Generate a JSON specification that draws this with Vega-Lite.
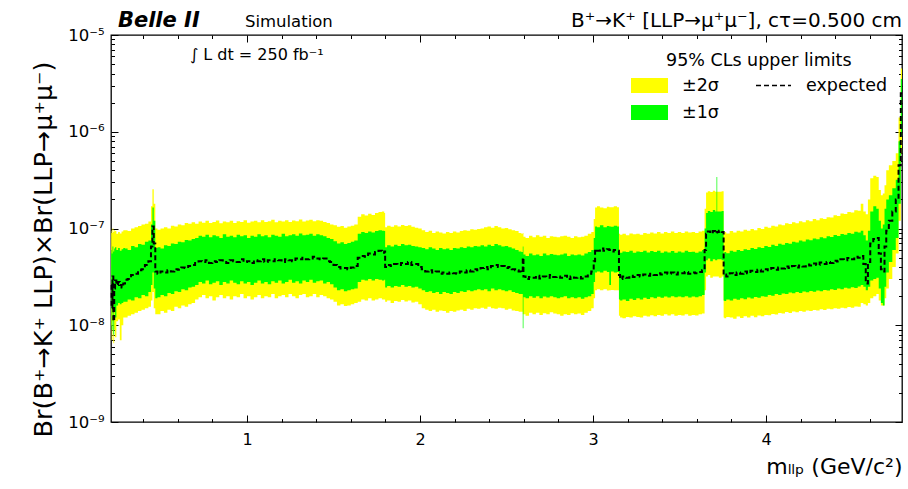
{
  "$schema": "https://vega.github.io/schema/vega-lite/v6.json",
  "width": 791,
  "height": 387,
  "autosize": {"type": "none"},
  "padding": {"left": 111, "top": 35, "right": 6, "bottom": 67},
  "config": {
    "view": {"stroke": "black", "strokeWidth": 1.3},
    "axis": {"domain": false, "grid": false, "labelColor": "black", "tickColor": "black", "labelFont": "DejaVu Sans", "titleFont": "DejaVu Sans", "titleColor": "black", "titleFontWeight": "normal", "tickWidth": 1},
    "legend": {"labelFont": "DejaVu Sans", "labelColor": "black", "padding": 0}
  },
  "data": {"values": [
    {"m":0.215,"e":2.6e-8,"g1":1.5e-8,"g2":6.0e-8,"y1":1.0e-8,"y2":9.5e-8},
    {"m":0.22,"e":1.5e-8,"g1":9e-9,"g2":5.5e-8,"y1":7e-9,"y2":9.0e-8},
    {"m":0.225,"e":3.2e-8,"g1":1.8e-8,"g2":6.5e-8,"y1":1.1e-8,"y2":1.0e-7},
    {"m":0.23,"e":1.1e-8,"g1":8e-9,"g2":5.8e-8,"y1":6.5e-9,"y2":9.2e-8},
    {"m":0.235,"e":2.4e-8,"g1":1.4e-8,"g2":6.2e-8,"y1":9e-9,"y2":9.6e-8},
    {"m":0.24,"e":2.9e-8,"g1":1.2e-8,"g2":6.4e-8,"y1":7.5e-9,"y2":9.4e-8},
    {"m":0.25,"e":2.6e-8,"g1":1.6e-8,"g2":6.0e-8,"y1":1.1e-8,"y2":8.8e-8},
    {"m":0.26,"e":2.8e-8,"g1":1.7e-8,"g2":6.3e-8,"y1":1.15e-8,"y2":9.2e-8},
    {"m":0.27,"e":2.6e-8,"g1":1.65e-8,"g2":5.9e-8,"y1":7e-9,"y2":8.9e-8},
    {"m":0.28,"e":2.45e-8,"g1":1.7e-8,"g2":6.1e-8,"y1":1.0e-8,"y2":9.3e-8},
    {"m":0.29,"e":2.7e-8,"g1":1.75e-8,"g2":6.3e-8,"y1":1.2e-8,"y2":9.6e-8},
    {"m":0.30,"e":2.95e-8,"g1":1.75e-8,"g2":6.2e-8,"y1":1.2e-8,"y2":9.6e-8},
    {"m":0.32,"e":3.0e-8,"g1":1.85e-8,"g2":6.0e-8,"y1":1.25e-8,"y2":9.4e-8},
    {"m":0.34,"e":3.3e-8,"g1":1.8e-8,"g2":6.6e-8,"y1":1.3e-8,"y2":1.0e-7},
    {"m":0.36,"e":3.4e-8,"g1":1.95e-8,"g2":6.4e-8,"y1":1.35e-8,"y2":1.03e-7},
    {"m":0.38,"e":3.7e-8,"g1":1.9e-8,"g2":6.9e-8,"y1":1.4e-8,"y2":1.06e-7},
    {"m":0.40,"e":3.8e-8,"g1":2.05e-8,"g2":6.8e-8,"y1":1.45e-8,"y2":1.1e-7},
    {"m":0.42,"e":4.2e-8,"g1":2.0e-8,"g2":7.3e-8,"y1":1.5e-8,"y2":1.12e-7},
    {"m":0.44,"e":4.6e-8,"g1":2.2e-8,"g2":7.5e-8,"y1":1.55e-8,"y2":1.18e-7},
    {"m":0.45,"e":6.5e-8,"g1":2.6e-8,"g2":1.1e-7,"y1":1.8e-8,"y2":1.7e-7},
    {"m":0.457,"e":1.05e-7,"g1":3.5e-8,"g2":1.65e-7,"y1":2.2e-8,"y2":2.55e-7},
    {"m":0.465,"e":7.0e-8,"g1":2.4e-8,"g2":1.2e-7,"y1":1.5e-8,"y2":1.8e-7},
    {"m":0.475,"e":3.6e-8,"g1":1.9e-8,"g2":6.3e-8,"y1":1.3e-8,"y2":1.0e-7},
    {"m":0.49,"e":3.4e-8,"g1":1.95e-8,"g2":6.4e-8,"y1":1.3e-8,"y2":9.7e-8},
    {"m":0.51,"e":3.6e-8,"g1":2.05e-8,"g2":6.2e-8,"y1":1.4e-8,"y2":1.0e-7},
    {"m":0.53,"e":3.5e-8,"g1":2.0e-8,"g2":6.7e-8,"y1":1.35e-8,"y2":1.03e-7},
    {"m":0.55,"e":3.7e-8,"g1":2.15e-8,"g2":6.6e-8,"y1":1.45e-8,"y2":1.0e-7},
    {"m":0.57,"e":3.6e-8,"g1":2.1e-8,"g2":7.0e-8,"y1":1.4e-8,"y2":1.07e-7},
    {"m":0.59,"e":3.8e-8,"g1":2.25e-8,"g2":6.9e-8,"y1":1.55e-8,"y2":1.05e-7},
    {"m":0.61,"e":3.75e-8,"g1":2.2e-8,"g2":7.3e-8,"y1":1.5e-8,"y2":1.1e-7},
    {"m":0.63,"e":3.95e-8,"g1":2.35e-8,"g2":7.2e-8,"y1":1.6e-8,"y2":1.08e-7},
    {"m":0.65,"e":3.9e-8,"g1":2.3e-8,"g2":7.6e-8,"y1":1.55e-8,"y2":1.14e-7},
    {"m":0.67,"e":4.1e-8,"g1":2.45e-8,"g2":7.5e-8,"y1":1.65e-8,"y2":1.12e-7},
    {"m":0.69,"e":4.2e-8,"g1":2.5e-8,"g2":7.8e-8,"y1":1.7e-8,"y2":1.16e-7},
    {"m":0.71,"e":4.4e-8,"g1":2.6e-8,"g2":8.0e-8,"y1":1.85e-8,"y2":1.12e-7},
    {"m":0.73,"e":4.6e-8,"g1":2.8e-8,"g2":8.4e-8,"y1":1.95e-8,"y2":1.18e-7},
    {"m":0.75,"e":4.5e-8,"g1":2.7e-8,"g2":8.2e-8,"y1":2.05e-8,"y2":1.15e-7},
    {"m":0.77,"e":4.7e-8,"g1":2.9e-8,"g2":8.6e-8,"y1":1.9e-8,"y2":1.2e-7},
    {"m":0.79,"e":4.4e-8,"g1":2.65e-8,"g2":8.1e-8,"y1":2.0e-8,"y2":1.14e-7},
    {"m":0.81,"e":4.6e-8,"g1":2.75e-8,"g2":8.5e-8,"y1":1.8e-8,"y2":1.17e-7},
    {"m":0.83,"e":4.5e-8,"g1":2.85e-8,"g2":8.3e-8,"y1":1.95e-8,"y2":1.21e-7},
    {"m":0.85,"e":4.7e-8,"g1":2.6e-8,"g2":8.0e-8,"y1":2.05e-8,"y2":1.13e-7},
    {"m":0.87,"e":4.5e-8,"g1":2.8e-8,"g2":8.7e-8,"y1":1.9e-8,"y2":1.18e-7},
    {"m":0.89,"e":4.4e-8,"g1":2.7e-8,"g2":8.2e-8,"y1":2.0e-8,"y2":1.16e-7},
    {"m":0.91,"e":4.7e-8,"g1":2.9e-8,"g2":8.4e-8,"y1":1.85e-8,"y2":1.2e-7},
    {"m":0.93,"e":4.6e-8,"g1":2.75e-8,"g2":8.1e-8,"y1":2.0e-8,"y2":1.14e-7},
    {"m":0.95,"e":4.5e-8,"g1":2.65e-8,"g2":8.6e-8,"y1":1.95e-8,"y2":1.19e-7},
    {"m":0.97,"e":4.8e-8,"g1":2.85e-8,"g2":8.3e-8,"y1":2.1e-8,"y2":1.17e-7},
    {"m":0.99,"e":4.5e-8,"g1":2.7e-8,"g2":8.5e-8,"y1":1.9e-8,"y2":1.22e-7},
    {"m":1.01,"e":4.6e-8,"g1":2.8e-8,"g2":8.0e-8,"y1":2.0e-8,"y2":1.15e-7},
    {"m":1.03,"e":4.4e-8,"g1":2.6e-8,"g2":8.4e-8,"y1":1.85e-8,"y2":1.18e-7},
    {"m":1.05,"e":4.7e-8,"g1":2.75e-8,"g2":8.2e-8,"y1":1.95e-8,"y2":1.2e-7},
    {"m":1.07,"e":4.6e-8,"g1":2.9e-8,"g2":8.7e-8,"y1":2.05e-8,"y2":1.16e-7},
    {"m":1.09,"e":4.8e-8,"g1":2.7e-8,"g2":8.3e-8,"y1":1.9e-8,"y2":1.22e-7},
    {"m":1.11,"e":4.5e-8,"g1":2.8e-8,"g2":8.5e-8,"y1":2.0e-8,"y2":1.17e-7},
    {"m":1.13,"e":4.7e-8,"g1":2.65e-8,"g2":8.1e-8,"y1":1.95e-8,"y2":1.19e-7},
    {"m":1.15,"e":4.6e-8,"g1":2.85e-8,"g2":8.6e-8,"y1":2.1e-8,"y2":1.23e-7},
    {"m":1.17,"e":4.8e-8,"g1":2.75e-8,"g2":8.4e-8,"y1":1.9e-8,"y2":1.16e-7},
    {"m":1.19,"e":4.7e-8,"g1":2.9e-8,"g2":8.2e-8,"y1":2.0e-8,"y2":1.2e-7},
    {"m":1.21,"e":4.5e-8,"g1":2.7e-8,"g2":8.8e-8,"y1":2.05e-8,"y2":1.18e-7},
    {"m":1.23,"e":4.8e-8,"g1":2.8e-8,"g2":8.3e-8,"y1":1.95e-8,"y2":1.22e-7},
    {"m":1.25,"e":4.7e-8,"g1":2.95e-8,"g2":8.5e-8,"y1":2.1e-8,"y2":1.17e-7},
    {"m":1.27,"e":4.6e-8,"g1":2.75e-8,"g2":8.7e-8,"y1":2.0e-8,"y2":1.21e-7},
    {"m":1.29,"e":4.9e-8,"g1":2.85e-8,"g2":8.4e-8,"y1":1.9e-8,"y2":1.19e-7},
    {"m":1.31,"e":4.8e-8,"g1":2.7e-8,"g2":8.9e-8,"y1":2.05e-8,"y2":1.24e-7},
    {"m":1.33,"e":5.0e-8,"g1":2.9e-8,"g2":8.5e-8,"y1":2.1e-8,"y2":1.18e-7},
    {"m":1.35,"e":4.8e-8,"g1":2.8e-8,"g2":8.6e-8,"y1":1.95e-8,"y2":1.21e-7},
    {"m":1.37,"e":4.9e-8,"g1":2.95e-8,"g2":8.8e-8,"y1":2.0e-8,"y2":1.23e-7},
    {"m":1.39,"e":5.1e-8,"g1":2.75e-8,"g2":8.4e-8,"y1":2.1e-8,"y2":1.19e-7},
    {"m":1.41,"e":4.9e-8,"g1":2.85e-8,"g2":8.7e-8,"y1":1.95e-8,"y2":1.22e-7},
    {"m":1.43,"e":4.8e-8,"g1":2.9e-8,"g2":8.5e-8,"y1":2.05e-8,"y2":1.2e-7},
    {"m":1.45,"e":4.9e-8,"g1":2.7e-8,"g2":8.3e-8,"y1":2.0e-8,"y2":1.17e-7},
    {"m":1.47,"e":4.6e-8,"g1":2.8e-8,"g2":8.0e-8,"y1":1.9e-8,"y2":1.14e-7},
    {"m":1.49,"e":4.5e-8,"g1":2.65e-8,"g2":7.8e-8,"y1":1.85e-8,"y2":1.1e-7},
    {"m":1.51,"e":4.2e-8,"g1":2.45e-8,"g2":7.4e-8,"y1":1.75e-8,"y2":1.08e-7},
    {"m":1.53,"e":4.0e-8,"g1":2.3e-8,"g2":7.0e-8,"y1":1.6e-8,"y2":1.04e-7},
    {"m":1.55,"e":3.85e-8,"g1":2.35e-8,"g2":7.2e-8,"y1":1.65e-8,"y2":1.06e-7},
    {"m":1.57,"e":3.9e-8,"g1":2.25e-8,"g2":6.9e-8,"y1":1.58e-8,"y2":1.02e-7},
    {"m":1.59,"e":3.8e-8,"g1":2.3e-8,"g2":7.1e-8,"y1":1.6e-8,"y2":1.05e-7},
    {"m":1.61,"e":3.95e-8,"g1":2.35e-8,"g2":7.3e-8,"y1":1.65e-8,"y2":1.07e-7},
    {"m":1.63,"e":4.1e-8,"g1":2.4e-8,"g2":7.5e-8,"y1":1.7e-8,"y2":1.1e-7},
    {"m":1.65,"e":5.0e-8,"g1":2.8e-8,"g2":8.8e-8,"y1":1.75e-8,"y2":1.32e-7},
    {"m":1.67,"e":5.2e-8,"g1":2.95e-8,"g2":9.2e-8,"y1":1.85e-8,"y2":1.4e-7},
    {"m":1.69,"e":5.1e-8,"g1":2.9e-8,"g2":9.0e-8,"y1":1.8e-8,"y2":1.36e-7},
    {"m":1.71,"e":5.5e-8,"g1":3.0e-8,"g2":9.3e-8,"y1":1.9e-8,"y2":1.42e-7},
    {"m":1.73,"e":5.4e-8,"g1":2.9e-8,"g2":9.1e-8,"y1":1.8e-8,"y2":1.38e-7},
    {"m":1.75,"e":5.7e-8,"g1":3.0e-8,"g2":9.4e-8,"y1":1.85e-8,"y2":1.45e-7},
    {"m":1.77,"e":5.9e-8,"g1":2.95e-8,"g2":9.6e-8,"y1":1.9e-8,"y2":1.48e-7},
    {"m":1.79,"e":5.6e-8,"g1":2.9e-8,"g2":9.5e-8,"y1":1.85e-8,"y2":1.5e-7},
    {"m":1.797,"e":5.8e-8,"g1":2.95e-8,"g2":9.4e-8,"y1":1.85e-8,"y2":1.45e-7},
    {"m":1.80,"e":4.0e-8,"g1":2.45e-8,"g2":6.4e-8,"y1":1.75e-8,"y2":1.03e-7},
    {"m":1.82,"e":4.2e-8,"g1":2.55e-8,"g2":6.7e-8,"y1":1.8e-8,"y2":1.07e-7},
    {"m":1.84,"e":4.1e-8,"g1":2.45e-8,"g2":6.5e-8,"y1":1.7e-8,"y2":1.04e-7},
    {"m":1.86,"e":4.3e-8,"g1":2.55e-8,"g2":6.8e-8,"y1":1.78e-8,"y2":1.08e-7},
    {"m":1.88,"e":4.2e-8,"g1":2.5e-8,"g2":6.6e-8,"y1":1.75e-8,"y2":1.05e-7},
    {"m":1.90,"e":4.4e-8,"g1":2.6e-8,"g2":6.9e-8,"y1":1.82e-8,"y2":1.09e-7},
    {"m":1.92,"e":4.3e-8,"g1":2.5e-8,"g2":6.7e-8,"y1":1.76e-8,"y2":1.06e-7},
    {"m":1.94,"e":4.5e-8,"g1":2.55e-8,"g2":6.8e-8,"y1":1.8e-8,"y2":1.08e-7},
    {"m":1.96,"e":4.2e-8,"g1":2.45e-8,"g2":6.6e-8,"y1":1.72e-8,"y2":1.04e-7},
    {"m":1.98,"e":4.3e-8,"g1":2.5e-8,"g2":6.5e-8,"y1":1.75e-8,"y2":1.02e-7},
    {"m":2.00,"e":4.0e-8,"g1":2.4e-8,"g2":6.4e-8,"y1":1.65e-8,"y2":1.0e-7},
    {"m":2.02,"e":3.8e-8,"g1":2.3e-8,"g2":6.3e-8,"y1":1.5e-8,"y2":9.6e-8},
    {"m":2.04,"e":3.6e-8,"g1":2.2e-8,"g2":6.1e-8,"y1":1.45e-8,"y2":9.2e-8},
    {"m":2.06,"e":3.7e-8,"g1":2.25e-8,"g2":6.4e-8,"y1":1.4e-8,"y2":9.5e-8},
    {"m":2.08,"e":3.5e-8,"g1":2.15e-8,"g2":6.2e-8,"y1":1.45e-8,"y2":9.0e-8},
    {"m":2.10,"e":3.6e-8,"g1":2.2e-8,"g2":6.0e-8,"y1":1.38e-8,"y2":9.3e-8},
    {"m":2.12,"e":3.4e-8,"g1":2.1e-8,"g2":6.3e-8,"y1":1.42e-8,"y2":9.1e-8},
    {"m":2.14,"e":3.5e-8,"g1":2.2e-8,"g2":6.1e-8,"y1":1.4e-8,"y2":8.9e-8},
    {"m":2.16,"e":3.4e-8,"g1":2.15e-8,"g2":6.2e-8,"y1":1.35e-8,"y2":9.2e-8},
    {"m":2.18,"e":3.5e-8,"g1":2.1e-8,"g2":6.0e-8,"y1":1.4e-8,"y2":9.0e-8},
    {"m":2.20,"e":3.45e-8,"g1":2.2e-8,"g2":6.3e-8,"y1":1.38e-8,"y2":9.3e-8},
    {"m":2.22,"e":3.4e-8,"g1":2.15e-8,"g2":6.2e-8,"y1":1.42e-8,"y2":9.1e-8},
    {"m":2.24,"e":3.6e-8,"g1":2.25e-8,"g2":6.4e-8,"y1":1.45e-8,"y2":9.4e-8},
    {"m":2.26,"e":3.5e-8,"g1":2.2e-8,"g2":6.3e-8,"y1":1.4e-8,"y2":9.6e-8},
    {"m":2.28,"e":3.7e-8,"g1":2.3e-8,"g2":6.5e-8,"y1":1.48e-8,"y2":9.5e-8},
    {"m":2.30,"e":3.6e-8,"g1":2.25e-8,"g2":6.4e-8,"y1":1.45e-8,"y2":9.8e-8},
    {"m":2.32,"e":3.8e-8,"g1":2.3e-8,"g2":6.6e-8,"y1":1.5e-8,"y2":9.7e-8},
    {"m":2.34,"e":3.7e-8,"g1":2.35e-8,"g2":6.5e-8,"y1":1.48e-8,"y2":9.9e-8},
    {"m":2.36,"e":3.9e-8,"g1":2.3e-8,"g2":6.7e-8,"y1":1.52e-8,"y2":1.0e-7},
    {"m":2.38,"e":4.0e-8,"g1":2.35e-8,"g2":6.5e-8,"y1":1.48e-8,"y2":1.03e-7},
    {"m":2.40,"e":3.8e-8,"g1":2.25e-8,"g2":6.8e-8,"y1":1.55e-8,"y2":1.05e-7},
    {"m":2.42,"e":4.1e-8,"g1":2.4e-8,"g2":6.6e-8,"y1":1.5e-8,"y2":1.02e-7},
    {"m":2.44,"e":4.2e-8,"g1":2.3e-8,"g2":6.9e-8,"y1":1.48e-8,"y2":1.06e-7},
    {"m":2.46,"e":4.0e-8,"g1":2.35e-8,"g2":6.7e-8,"y1":1.52e-8,"y2":1.03e-7},
    {"m":2.48,"e":4.1e-8,"g1":2.3e-8,"g2":6.5e-8,"y1":1.5e-8,"y2":1.0e-7},
    {"m":2.50,"e":3.9e-8,"g1":2.25e-8,"g2":6.6e-8,"y1":1.45e-8,"y2":1.01e-7},
    {"m":2.52,"e":4.0e-8,"g1":2.3e-8,"g2":6.4e-8,"y1":1.48e-8,"y2":9.8e-8},
    {"m":2.54,"e":3.8e-8,"g1":2.2e-8,"g2":6.2e-8,"y1":1.42e-8,"y2":9.6e-8},
    {"m":2.56,"e":3.7e-8,"g1":2.15e-8,"g2":6.0e-8,"y1":1.4e-8,"y2":9.4e-8},
    {"m":2.58,"e":3.6e-8,"g1":2.1e-8,"g2":5.8e-8,"y1":1.38e-8,"y2":9.0e-8},
    {"m":2.592,"e":3.5e-8,"g1":2.1e-8,"g2":5.7e-8,"y1":1.38e-8,"y2":8.8e-8},
    {"m":2.596,"e":5.0e-8,"g1":9.3e-9,"g2":6.5e-8,"y1":1.3e-8,"y2":9.0e-8},
    {"m":2.60,"e":3.2e-8,"g1":1.95e-8,"g2":5.4e-8,"y1":1.3e-8,"y2":8.2e-8},
    {"m":2.62,"e":3.0e-8,"g1":1.9e-8,"g2":5.2e-8,"y1":1.25e-8,"y2":8.0e-8},
    {"m":2.64,"e":3.15e-8,"g1":2.0e-8,"g2":5.5e-8,"y1":1.35e-8,"y2":8.4e-8},
    {"m":2.66,"e":3.1e-8,"g1":1.92e-8,"g2":5.3e-8,"y1":1.3e-8,"y2":8.1e-8},
    {"m":2.68,"e":3.25e-8,"g1":2.0e-8,"g2":5.4e-8,"y1":1.35e-8,"y2":8.5e-8},
    {"m":2.70,"e":3.05e-8,"g1":1.9e-8,"g2":5.2e-8,"y1":1.28e-8,"y2":8.2e-8},
    {"m":2.72,"e":3.2e-8,"g1":1.98e-8,"g2":5.5e-8,"y1":1.33e-8,"y2":8.4e-8},
    {"m":2.74,"e":3.1e-8,"g1":1.93e-8,"g2":5.3e-8,"y1":1.3e-8,"y2":8.0e-8},
    {"m":2.76,"e":3.3e-8,"g1":2.0e-8,"g2":5.45e-8,"y1":1.36e-8,"y2":8.3e-8},
    {"m":2.78,"e":3.15e-8,"g1":1.95e-8,"g2":5.35e-8,"y1":1.32e-8,"y2":8.2e-8},
    {"m":2.80,"e":3.2e-8,"g1":1.9e-8,"g2":5.3e-8,"y1":1.3e-8,"y2":8.1e-8},
    {"m":2.82,"e":3.1e-8,"g1":1.95e-8,"g2":5.4e-8,"y1":1.25e-8,"y2":8.3e-8},
    {"m":2.84,"e":3.25e-8,"g1":2.0e-8,"g2":5.5e-8,"y1":1.3e-8,"y2":8.4e-8},
    {"m":2.86,"e":3.0e-8,"g1":1.9e-8,"g2":5.2e-8,"y1":1.28e-8,"y2":8.2e-8},
    {"m":2.88,"e":3.2e-8,"g1":1.95e-8,"g2":5.4e-8,"y1":1.33e-8,"y2":8.0e-8},
    {"m":2.90,"e":3.1e-8,"g1":1.9e-8,"g2":5.3e-8,"y1":1.3e-8,"y2":8.3e-8},
    {"m":2.92,"e":3.15e-8,"g1":1.95e-8,"g2":5.4e-8,"y1":1.32e-8,"y2":8.1e-8},
    {"m":2.94,"e":3.05e-8,"g1":1.88e-8,"g2":5.25e-8,"y1":1.28e-8,"y2":8.2e-8},
    {"m":2.96,"e":3.2e-8,"g1":1.95e-8,"g2":5.5e-8,"y1":1.35e-8,"y2":8.4e-8},
    {"m":2.98,"e":3.4e-8,"g1":2.0e-8,"g2":5.7e-8,"y1":1.4e-8,"y2":8.8e-8},
    {"m":3.00,"e":3.6e-8,"g1":2.1e-8,"g2":6.0e-8,"y1":1.5e-8,"y2":9.2e-8},
    {"m":3.008,"e":4.6e-8,"g1":2.8e-8,"g2":8.0e-8,"y1":1.9e-8,"y2":1.25e-7},
    {"m":3.016,"e":6.1e-8,"g1":3.5e-8,"g2":1.05e-7,"y1":2.3e-8,"y2":1.65e-7},
    {"m":3.03,"e":5.9e-8,"g1":3.6e-8,"g2":1.03e-7,"y1":2.35e-8,"y2":1.7e-7},
    {"m":3.05,"e":6.2e-8,"g1":3.5e-8,"g2":1.08e-7,"y1":2.3e-8,"y2":1.65e-7},
    {"m":3.07,"e":5.9e-8,"g1":3.65e-8,"g2":1.03e-7,"y1":2.35e-8,"y2":1.62e-7},
    {"m":3.09,"e":6.1e-8,"g1":3.55e-8,"g2":1.06e-7,"y1":2.28e-8,"y2":1.68e-7},
    {"m":3.098,"e":6.0e-8,"g1":2.6e-8,"g2":1.05e-7,"y1":2.3e-8,"y2":1.66e-7},
    {"m":3.11,"e":5.8e-8,"g1":3.6e-8,"g2":1.04e-7,"y1":2.32e-8,"y2":1.66e-7},
    {"m":3.13,"e":6.0e-8,"g1":3.5e-8,"g2":1.07e-7,"y1":2.3e-8,"y2":1.7e-7},
    {"m":3.147,"e":5.9e-8,"g1":3.55e-8,"g2":1.05e-7,"y1":2.3e-8,"y2":1.66e-7},
    {"m":3.153,"e":3.3e-8,"g1":1.85e-8,"g2":5.6e-8,"y1":1.25e-8,"y2":8.8e-8},
    {"m":3.16,"e":3.0e-8,"g1":1.8e-8,"g2":5.6e-8,"y1":1.2e-8,"y2":8.6e-8},
    {"m":3.18,"e":3.2e-8,"g1":1.85e-8,"g2":5.8e-8,"y1":1.18e-8,"y2":8.8e-8},
    {"m":3.20,"e":3.1e-8,"g1":1.78e-8,"g2":5.7e-8,"y1":1.22e-8,"y2":8.5e-8},
    {"m":3.22,"e":3.25e-8,"g1":1.88e-8,"g2":5.9e-8,"y1":1.2e-8,"y2":8.9e-8},
    {"m":3.24,"e":3.15e-8,"g1":1.82e-8,"g2":5.6e-8,"y1":1.24e-8,"y2":8.7e-8},
    {"m":3.26,"e":3.3e-8,"g1":1.9e-8,"g2":5.8e-8,"y1":1.22e-8,"y2":8.8e-8},
    {"m":3.28,"e":3.2e-8,"g1":1.85e-8,"g2":5.7e-8,"y1":1.2e-8,"y2":8.6e-8},
    {"m":3.30,"e":3.35e-8,"g1":1.92e-8,"g2":5.9e-8,"y1":1.25e-8,"y2":9.0e-8},
    {"m":3.32,"e":3.25e-8,"g1":1.87e-8,"g2":5.65e-8,"y1":1.23e-8,"y2":8.8e-8},
    {"m":3.34,"e":3.4e-8,"g1":1.95e-8,"g2":5.85e-8,"y1":1.27e-8,"y2":9.1e-8},
    {"m":3.36,"e":3.3e-8,"g1":1.9e-8,"g2":5.7e-8,"y1":1.24e-8,"y2":8.9e-8},
    {"m":3.38,"e":3.45e-8,"g1":1.97e-8,"g2":5.9e-8,"y1":1.28e-8,"y2":9.2e-8},
    {"m":3.40,"e":3.35e-8,"g1":1.92e-8,"g2":5.6e-8,"y1":1.25e-8,"y2":8.9e-8},
    {"m":3.42,"e":3.5e-8,"g1":1.98e-8,"g2":5.8e-8,"y1":1.3e-8,"y2":9.2e-8},
    {"m":3.44,"e":3.4e-8,"g1":1.93e-8,"g2":5.65e-8,"y1":1.26e-8,"y2":9.0e-8},
    {"m":3.46,"e":3.5e-8,"g1":2.0e-8,"g2":5.85e-8,"y1":1.3e-8,"y2":9.3e-8},
    {"m":3.48,"e":3.35e-8,"g1":1.95e-8,"g2":5.6e-8,"y1":1.25e-8,"y2":9.0e-8},
    {"m":3.50,"e":3.5e-8,"g1":1.98e-8,"g2":5.8e-8,"y1":1.28e-8,"y2":9.2e-8},
    {"m":3.52,"e":3.45e-8,"g1":1.95e-8,"g2":5.65e-8,"y1":1.26e-8,"y2":9.0e-8},
    {"m":3.54,"e":3.55e-8,"g1":2.0e-8,"g2":5.9e-8,"y1":1.3e-8,"y2":9.3e-8},
    {"m":3.56,"e":3.4e-8,"g1":1.94e-8,"g2":5.7e-8,"y1":1.25e-8,"y2":9.1e-8},
    {"m":3.58,"e":3.5e-8,"g1":1.98e-8,"g2":5.75e-8,"y1":1.28e-8,"y2":9.2e-8},
    {"m":3.60,"e":3.45e-8,"g1":1.95e-8,"g2":5.6e-8,"y1":1.26e-8,"y2":9.0e-8},
    {"m":3.62,"e":3.55e-8,"g1":2.0e-8,"g2":5.8e-8,"y1":1.3e-8,"y2":9.3e-8},
    {"m":3.64,"e":3.7e-8,"g1":2.05e-8,"g2":6.0e-8,"y1":1.32e-8,"y2":9.5e-8},
    {"m":3.65,"e":6.0e-8,"g1":3.5e-8,"g2":1.0e-7,"y1":2.3e-8,"y2":1.6e-7},
    {"m":3.657,"e":8.8e-8,"g1":4.7e-8,"g2":1.45e-7,"y1":3.2e-8,"y2":2.35e-7},
    {"m":3.67,"e":9.3e-8,"g1":4.9e-8,"g2":1.52e-7,"y1":3.3e-8,"y2":2.42e-7},
    {"m":3.685,"e":8.9e-8,"g1":4.6e-8,"g2":1.48e-7,"y1":3.1e-8,"y2":2.38e-7},
    {"m":3.70,"e":9.4e-8,"g1":4.8e-8,"g2":1.55e-7,"y1":3.2e-8,"y2":2.45e-7},
    {"m":3.712,"e":9.0e-8,"g1":4.7e-8,"g2":1.5e-7,"y1":3.2e-8,"y2":2.4e-7},
    {"m":3.716,"e":9.1e-8,"g1":4.7e-8,"g2":3.4e-7,"y1":3.2e-8,"y2":2.4e-7},
    {"m":3.72,"e":9.2e-8,"g1":4.8e-8,"g2":1.5e-7,"y1":3.2e-8,"y2":2.4e-7},
    {"m":3.735,"e":9.5e-8,"g1":4.8e-8,"g2":1.5e-7,"y1":3.1e-8,"y2":2.4e-7},
    {"m":3.752,"e":9.2e-8,"g1":4.7e-8,"g2":1.52e-7,"y1":3.2e-8,"y2":2.42e-7},
    {"m":3.758,"e":3.3e-8,"g1":1.8e-8,"g2":5.5e-8,"y1":1.2e-8,"y2":8.9e-8},
    {"m":3.76,"e":3.35e-8,"g1":1.78e-8,"g2":5.7e-8,"y1":1.18e-8,"y2":9.2e-8},
    {"m":3.78,"e":3.2e-8,"g1":1.85e-8,"g2":5.55e-8,"y1":1.22e-8,"y2":8.9e-8},
    {"m":3.80,"e":3.45e-8,"g1":1.8e-8,"g2":5.9e-8,"y1":1.2e-8,"y2":9.4e-8},
    {"m":3.82,"e":3.3e-8,"g1":1.88e-8,"g2":5.75e-8,"y1":1.17e-8,"y2":9.1e-8},
    {"m":3.84,"e":3.5e-8,"g1":1.84e-8,"g2":6.0e-8,"y1":1.23e-8,"y2":9.5e-8},
    {"m":3.86,"e":3.4e-8,"g1":1.9e-8,"g2":5.85e-8,"y1":1.19e-8,"y2":9.3e-8},
    {"m":3.88,"e":3.6e-8,"g1":1.86e-8,"g2":6.1e-8,"y1":1.24e-8,"y2":9.7e-8},
    {"m":3.90,"e":3.45e-8,"g1":1.93e-8,"g2":6.0e-8,"y1":1.2e-8,"y2":9.5e-8},
    {"m":3.92,"e":3.65e-8,"g1":1.89e-8,"g2":6.3e-8,"y1":1.25e-8,"y2":9.9e-8},
    {"m":3.94,"e":3.55e-8,"g1":1.96e-8,"g2":6.15e-8,"y1":1.21e-8,"y2":9.6e-8},
    {"m":3.96,"e":3.75e-8,"g1":1.92e-8,"g2":6.4e-8,"y1":1.26e-8,"y2":1.01e-7},
    {"m":3.98,"e":3.6e-8,"g1":2.0e-8,"g2":6.3e-8,"y1":1.24e-8,"y2":9.9e-8},
    {"m":4.00,"e":3.8e-8,"g1":1.97e-8,"g2":6.6e-8,"y1":1.28e-8,"y2":1.04e-7},
    {"m":4.02,"e":3.7e-8,"g1":2.05e-8,"g2":6.45e-8,"y1":1.27e-8,"y2":1.02e-7},
    {"m":4.04,"e":3.9e-8,"g1":2.02e-8,"g2":6.8e-8,"y1":1.31e-8,"y2":1.07e-7},
    {"m":4.06,"e":3.75e-8,"g1":2.1e-8,"g2":6.6e-8,"y1":1.29e-8,"y2":1.05e-7},
    {"m":4.08,"e":3.95e-8,"g1":2.06e-8,"g2":6.95e-8,"y1":1.34e-8,"y2":1.1e-7},
    {"m":4.10,"e":3.85e-8,"g1":2.13e-8,"g2":6.8e-8,"y1":1.32e-8,"y2":1.08e-7},
    {"m":4.12,"e":4.05e-8,"g1":2.1e-8,"g2":7.1e-8,"y1":1.37e-8,"y2":1.13e-7},
    {"m":4.14,"e":3.9e-8,"g1":2.18e-8,"g2":6.95e-8,"y1":1.34e-8,"y2":1.11e-7},
    {"m":4.16,"e":4.1e-8,"g1":2.14e-8,"g2":7.3e-8,"y1":1.39e-8,"y2":1.16e-7},
    {"m":4.18,"e":3.95e-8,"g1":2.2e-8,"g2":7.15e-8,"y1":1.36e-8,"y2":1.13e-7},
    {"m":4.20,"e":4.15e-8,"g1":2.16e-8,"g2":7.5e-8,"y1":1.4e-8,"y2":1.19e-7},
    {"m":4.22,"e":4.05e-8,"g1":2.23e-8,"g2":7.35e-8,"y1":1.38e-8,"y2":1.16e-7},
    {"m":4.24,"e":4.25e-8,"g1":2.19e-8,"g2":7.7e-8,"y1":1.42e-8,"y2":1.22e-7},
    {"m":4.26,"e":4.15e-8,"g1":2.26e-8,"g2":7.55e-8,"y1":1.4e-8,"y2":1.19e-7},
    {"m":4.28,"e":4.35e-8,"g1":2.22e-8,"g2":7.9e-8,"y1":1.44e-8,"y2":1.25e-7},
    {"m":4.30,"e":4.2e-8,"g1":2.29e-8,"g2":7.75e-8,"y1":1.42e-8,"y2":1.22e-7},
    {"m":4.32,"e":4.45e-8,"g1":2.25e-8,"g2":8.1e-8,"y1":1.46e-8,"y2":1.28e-7},
    {"m":4.34,"e":4.3e-8,"g1":2.32e-8,"g2":7.95e-8,"y1":1.44e-8,"y2":1.25e-7},
    {"m":4.36,"e":4.5e-8,"g1":2.28e-8,"g2":8.3e-8,"y1":1.48e-8,"y2":1.31e-7},
    {"m":4.38,"e":4.4e-8,"g1":2.35e-8,"g2":8.15e-8,"y1":1.46e-8,"y2":1.3e-7},
    {"m":4.40,"e":4.65e-8,"g1":2.32e-8,"g2":8.55e-8,"y1":1.5e-8,"y2":1.37e-7},
    {"m":4.42,"e":4.55e-8,"g1":2.4e-8,"g2":8.35e-8,"y1":1.48e-8,"y2":1.35e-7},
    {"m":4.44,"e":4.8e-8,"g1":2.36e-8,"g2":8.75e-8,"y1":1.52e-8,"y2":1.43e-7},
    {"m":4.46,"e":4.7e-8,"g1":2.44e-8,"g2":8.6e-8,"y1":1.5e-8,"y2":1.41e-7},
    {"m":4.48,"e":4.95e-8,"g1":2.4e-8,"g2":9.0e-8,"y1":1.54e-8,"y2":1.48e-7},
    {"m":4.50,"e":4.8e-8,"g1":2.47e-8,"g2":8.85e-8,"y1":1.52e-8,"y2":1.46e-7},
    {"m":4.52,"e":5.1e-8,"g1":2.43e-8,"g2":9.25e-8,"y1":1.56e-8,"y2":1.54e-7},
    {"m":4.54,"e":5.0e-8,"g1":2.52e-8,"g2":9.1e-8,"y1":1.55e-8,"y2":1.53e-7},
    {"m":4.555,"e":5.2e-8,"g1":2.6e-8,"g2":9.5e-8,"y1":1.7e-8,"y2":1.8e-7},
    {"m":4.57,"e":4.3e-8,"g1":2.5e-8,"g2":8.5e-8,"y1":1.65e-8,"y2":1.5e-7},
    {"m":4.583,"e":2.7e-8,"g1":2.3e-8,"g2":7.5e-8,"y1":1.6e-8,"y2":1.4e-7},
    {"m":4.595,"e":4.5e-8,"g1":2.5e-8,"g2":9.5e-8,"y1":1.7e-8,"y2":2.0e-7},
    {"m":4.61,"e":7.0e-8,"g1":2.9e-8,"g2":1.5e-7,"y1":1.9e-8,"y2":3.3e-7},
    {"m":4.63,"e":7.8e-8,"g1":3.0e-8,"g2":1.7e-7,"y1":2.0e-8,"y2":3.5e-7},
    {"m":4.645,"e":8.0e-8,"g1":3.1e-8,"g2":1.6e-7,"y1":2.1e-8,"y2":3.4e-7},
    {"m":4.658,"e":5.5e-8,"g1":2.4e-8,"g2":1.2e-7,"y1":1.8e-8,"y2":2.5e-7},
    {"m":4.67,"e":3.8e-8,"g1":1.7e-8,"g2":1.0e-7,"y1":1.6e-8,"y2":2.2e-7},
    {"m":4.68,"e":3.6e-8,"g1":1.6e-8,"g2":1.1e-7,"y1":1.6e-8,"y2":2.3e-7},
    {"m":4.69,"e":6.5e-8,"g1":2.5e-8,"g2":1.6e-7,"y1":1.9e-8,"y2":2.8e-7},
    {"m":4.70,"e":9.5e-8,"g1":3.5e-8,"g2":2.0e-7,"y1":2.4e-8,"y2":4.0e-7},
    {"m":4.72,"e":1.2e-7,"g1":4.5e-8,"g2":2.2e-7,"y1":3.0e-8,"y2":4.5e-7},
    {"m":4.74,"e":1.5e-7,"g1":6.0e-8,"g2":2.6e-7,"y1":4.0e-8,"y2":5.0e-7},
    {"m":4.76,"e":2.0e-7,"g1":8.0e-8,"g2":3.2e-7,"y1":5.5e-8,"y2":6.0e-7},
    {"m":4.772,"e":4.5e-7,"g1":1.8e-7,"g2":8.0e-7,"y1":1.2e-7,"y2":1.4e-6},
    {"m":4.786,"e":2.5e-6,"g1":9e-7,"g2":3.5e-6,"y1":6e-7,"y2":4.5e-6}
  ]},
  "layer": [
    {
      "mark": {"type": "area", "opacity": 1, "interpolate": "step"},
      "encoding": {
        "x": {"field": "m", "type": "quantitative", "scale": {"domain": [0.214, 4.786], "nice": false, "zero": false},
          "axis": {"orient": "bottom", "values": [1, 2, 3, 4], "format": "d", "tickSize": -7, "labelPadding": 16, "labelFontSize": 16, "title": "mₗₗₚ (GeV/c²)", "titleFontSize": 22, "titleAnchor": "end", "titlePadding": 9}},
        "y": {"field": "y1", "type": "quantitative", "scale": {"type": "log", "domain": [1e-9, 1e-5], "nice": false},
          "axis": {"orient": "left", "values": [1e-9, 1e-8, 1e-7, 1e-6, 1e-5], "tickSize": -7, "labelPadding": 14, "labelFontSize": 16.5,
            "labelExpr": "datum.value < 5e-9 ? '10⁻⁹' : datum.value < 5e-8 ? '10⁻⁸' : datum.value < 5e-7 ? '10⁻⁷' : datum.value < 5e-6 ? '10⁻⁶' : '10⁻⁵'",
            "title": "Br(B⁺→K⁺ LLP)×Br(LLP→μ⁺μ⁻)", "titleFontSize": 25.5, "titleX": -60, "titleY": 214, "titleBaseline": "alphabetic"}},
        "y2": {"field": "y2"},
        "color": {"datum": "±2σ", "type": "nominal", "scale": {"domain": ["±2σ", "±1σ"], "range": ["#ffff00", "#00ff00"]},
          "legend": {"orient": "none", "legendX": 520, "legendY": 32, "title": null, "symbolType": "M-1,-0.4L1,-0.4L1,0.4L-1,0.4Z", "symbolSize": 1369, "symbolOpacity": 1, "symbolStrokeWidth": 0, "labelFontSize": 17.5, "labelOffset": 14, "rowPadding": -13}}
      }
    },
    {
      "mark": {"type": "area", "opacity": 1, "interpolate": "step"},
      "encoding": {
        "x": {"field": "m", "type": "quantitative",
          "axis": {"orient": "bottom", "values": [0.4, 0.6, 0.8, 1.2, 1.4, 1.6, 1.8, 2.2, 2.4, 2.6, 2.8, 3.2, 3.4, 3.6, 3.8, 4.2, 4.4, 4.6], "tickSize": -3.5, "labels": false, "title": null}},
        "y": {"field": "g1", "type": "quantitative",
          "axis": {"orient": "left", "values": [2e-9, 3e-9, 4e-9, 5e-9, 6e-9, 7e-9, 8e-9, 9e-9, 2e-8, 3e-8, 4e-8, 5e-8, 6e-8, 7e-8, 8e-8, 9e-8, 2e-7, 3e-7, 4e-7, 5e-7, 6e-7, 7e-7, 8e-7, 9e-7, 2e-6, 3e-6, 4e-6, 5e-6, 6e-6, 7e-6, 8e-6, 9e-6], "tickSize": -3.5, "labels": false, "title": null}},
        "y2": {"field": "g2"},
        "color": {"datum": "±1σ", "type": "nominal"}
      }
    },
    {
      "mark": {"type": "line", "strokeWidth": 2, "color": "black", "interpolate": "step"},
      "encoding": {
        "x": {"field": "m", "type": "quantitative",
          "axis": {"orient": "top", "values": [1, 2, 3, 4], "tickSize": -7, "labels": false, "title": null}},
        "y": {"field": "e", "type": "quantitative",
          "axis": {"orient": "right", "values": [1e-9, 1e-8, 1e-7, 1e-6, 1e-5], "tickSize": -7, "labels": false, "title": null}},
        "strokeDash": {"datum": "expected", "type": "nominal", "scale": {"domain": ["expected"], "range": [[5, 3]]},
          "legend": {"orient": "none", "legendX": 644, "legendY": 32, "title": null, "symbolType": "stroke", "symbolSize": 1225, "symbolStrokeColor": "black", "symbolStrokeWidth": 1.5, "labelFontSize": 17.5, "labelOffset": 14}}
      }
    },
    {
      "mark": {"type": "line", "opacity": 0},
      "encoding": {
        "x": {"field": "m", "type": "quantitative",
          "axis": {"orient": "top", "values": [0.4, 0.6, 0.8, 1.2, 1.4, 1.6, 1.8, 2.2, 2.4, 2.6, 2.8, 3.2, 3.4, 3.6, 3.8, 4.2, 4.4, 4.6], "tickSize": -3.5, "labels": false, "title": null}},
        "y": {"field": "e", "type": "quantitative",
          "axis": {"orient": "right", "values": [2e-9, 3e-9, 4e-9, 5e-9, 6e-9, 7e-9, 8e-9, 9e-9, 2e-8, 3e-8, 4e-8, 5e-8, 6e-8, 7e-8, 8e-8, 9e-8, 2e-7, 3e-7, 4e-7, 5e-7, 6e-7, 7e-7, 8e-7, 9e-7, 2e-6, 3e-6, 4e-6, 5e-6, 6e-6, 7e-6, 8e-6, 9e-6], "tickSize": -3.5, "labels": false, "title": null}}
      }
    },
    {
      "data": {"values": [{}]},
      "mark": {"type": "text", "text": "Belle II", "font": "DejaVu Sans", "fontSize": 21, "fontWeight": "bold", "fontStyle": "italic", "align": "left", "baseline": "alphabetic", "color": "black"},
      "encoding": {
        "x": {"datum": 0.254, "type": "quantitative", "axis": null},
        "y": {"datum": 1.2e-5, "type": "quantitative", "axis": null}
      }
    },
    {
      "data": {"values": [{}]},
      "mark": {"type": "text", "text": "Simulation", "font": "DejaVu Sans", "fontSize": 16.5, "align": "left", "baseline": "alphabetic", "color": "black"},
      "encoding": {
        "x": {"datum": 0.988, "type": "quantitative", "axis": null},
        "y": {"datum": 1.2e-5, "type": "quantitative", "axis": null}
      }
    },
    {
      "data": {"values": [{}]},
      "mark": {"type": "text", "text": "B⁺→K⁺ [LLP→μ⁺μ⁻], cτ=0.500 cm", "font": "DejaVu Sans", "fontSize": 20, "align": "right", "baseline": "alphabetic", "color": "black"},
      "encoding": {
        "x": {"datum": 4.786, "type": "quantitative", "axis": null},
        "y": {"datum": 1.21e-5, "type": "quantitative", "axis": null}
      }
    },
    {
      "data": {"values": [{}]},
      "mark": {"type": "text", "text": "∫ L dt  = 250 fb⁻¹", "font": "DejaVu Sans", "fontSize": 16, "align": "left", "baseline": "alphabetic", "color": "black"},
      "encoding": {
        "x": {"datum": 0.67, "type": "quantitative", "axis": null},
        "y": {"datum": 5.5e-6, "type": "quantitative", "axis": null}
      }
    },
    {
      "data": {"values": [{}]},
      "mark": {"type": "text", "text": "95% CLs upper limits", "font": "DejaVu Sans", "fontSize": 17.5, "align": "left", "baseline": "alphabetic", "color": "black"},
      "encoding": {
        "x": {"datum": 3.422, "type": "quantitative", "axis": null},
        "y": {"datum": 4.78e-6, "type": "quantitative", "axis": null}
      }
    }
  ],
  "resolve": {"axis": {"x": "independent", "y": "independent"}}
}
